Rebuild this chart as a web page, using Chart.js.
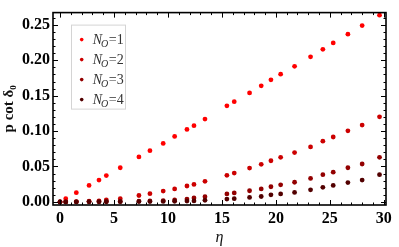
<!DOCTYPE html>
<html>
<head>
<meta charset="utf-8">
<script src="https://cdn.jsdelivr.net/npm/chart.js@4/dist/chart.umd.min.js"></script>
<style>
  html, body { margin: 0; padding: 0; background: #fff; }
  #wrap { width: 399px; height: 247px; position: relative; }
</style>
</head>
<body>
<div id="wrap"><canvas id="c"></canvas></div>
<script>
// ---- data ----
const eta = [0, 0.53, 1.51, 2.69, 3.61, 4.29, 5.58, 7.31, 8.33, 9.56, 10.62, 11.76, 12.41, 13.43,
             15.46, 16.14, 17.56, 18.64, 19.54, 20.44, 21.73, 23.21, 24.35, 25.31, 26.67, 27.99, 29.6];
const pcot1 = [0, 0.0046, 0.0130, 0.0233, 0.0308, 0.0371, 0.0482, 0.0635, 0.0723, 0.0826, 0.0924, 0.1023, 0.1076, 0.1170,
               0.1357, 0.1415, 0.1539, 0.1639, 0.1723, 0.1803, 0.1914, 0.2048, 0.2155, 0.2245, 0.2369, 0.2490, 0.2637];
const pcot2 = [0, 0.0001, 0.0004, 0.0010, 0.0015, 0.0027, 0.0046, 0.0090, 0.0116, 0.0153, 0.0183, 0.0224, 0.0246, 0.0290,
               0.0375, 0.0407, 0.0478, 0.0531, 0.0581, 0.0629, 0.0696, 0.0776, 0.0857, 0.0916, 0.1004, 0.1084, 0.1201];
const pcot3 = [0, 0, 0.0001, 0.0002, 0.0003, 0.0004, 0.0007, 0.0011, 0.0014, 0.0019, 0.0027, 0.0040, 0.0055, 0.0074,
               0.0112, 0.0126, 0.0157, 0.0183, 0.0214, 0.0241, 0.0277, 0.0331, 0.0384, 0.0420, 0.0482, 0.0535, 0.0629];
const pcot4 = [0, 0, 0, 0.0001, 0.0001, 0.0002, 0.0003, 0.0004, 0.0005, 0.0007, 0.0009, 0.0012, 0.0014, 0.0023,
               0.0040, 0.0046, 0.0063, 0.0076, 0.0099, 0.0112, 0.0134, 0.0170, 0.0206, 0.0233, 0.0273, 0.0308, 0.0384];
const seriesLabels = ['N_O=1', 'N_O=2', 'N_O=3', 'N_O=4'];
const xTicks = [0, 5, 10, 15, 20, 25, 30];
const yTicks = [0.00, 0.05, 0.10, 0.15, 0.20, 0.25];
const xTitle = 'η';
const yTitle = 'p cot δ₀';

// ---- styles ----
const colors = ['#ff0000', '#cc0000', '#930000', '#520000'];
const allSeries = [pcot1, pcot2, pcot3, pcot4];

const datasets = allSeries.map((vals, i) => ({
  label: seriesLabels[i],
  data: eta.map((x, k) => ({ x: x, y: vals[k] })),
  backgroundColor: colors[i],
  borderColor: colors[i],
  borderWidth: 0,
  pointRadius: 2.4,
  pointHoverRadius: 2.4,
  showLine: false,
  order: allSeries.length - 1 - i
}));

const serif = "'Liberation Serif', 'Times New Roman', serif";

const framePlugin = {
  id: 'frame',
  afterDatasetsDraw(chart) {
    const ctx = chart.ctx;
    const a = chart.chartArea;
    const xs = chart.scales.x, ys = chart.scales.y;
    ctx.save();
    ctx.strokeStyle = '#000';
    ctx.lineWidth = 1;
    ctx.beginPath();
    const xStep = xTicks[1] - xTicks[0];
    const xMinor = xStep / 5;
    for (let k = 0; k <= Math.round((xTicks[xTicks.length - 1]) / xMinor); k++) {
      const v = k * xMinor;
      const px = Math.round(xs.getPixelForValue(v)) + 0.5;
      if (px < a.left || px > a.right) continue;
      const major = Math.abs(v / xStep - Math.round(v / xStep)) < 1e-6;
      const L = major ? 5 : 2.5;
      ctx.moveTo(px, a.bottom); ctx.lineTo(px, a.bottom - L);
      ctx.moveTo(px, a.top); ctx.lineTo(px, a.top + L);
    }
    const yStep = yTicks[1] - yTicks[0];
    const yMinor = yStep / 5;
    for (let k = 0; k * yMinor <= ys.max; k++) {
      const v = k * yMinor;
      const py = Math.round(ys.getPixelForValue(v)) + 0.5;
      if (py < a.top || py > a.bottom) continue;
      const major = Math.abs(v / yStep - Math.round(v / yStep)) < 1e-6;
      const L = major ? 5 : 2.5;
      ctx.moveTo(a.left, py); ctx.lineTo(a.left + L, py);
      ctx.moveTo(a.right, py); ctx.lineTo(a.right - L, py);
    }
    ctx.stroke();
    ctx.lineWidth = 1.6;
    ctx.strokeRect(a.left, a.top, a.right - a.left, a.bottom - a.top);
    ctx.restore();
  }
};

const legendPlugin = {
  id: 'insideLegend',
  afterDraw(chart) {
    const ctx = chart.ctx;
    const a = chart.chartArea;
    const bx = a.left + 18, by = a.top + 12, bw = 54, bh = 84;
    ctx.save();
    ctx.fillStyle = '#fff';
    ctx.fillRect(bx, by, bw, bh);
    ctx.strokeStyle = '#d4d4d4';
    ctx.lineWidth = 1;
    ctx.strokeRect(bx + 0.5, by + 0.5, bw, bh);
    chart.data.datasets.forEach((ds, i) => {
      const cy = by + 15 + i * 20;
      ctx.fillStyle = ds.backgroundColor;
      ctx.beginPath();
      ctx.arc(bx + 10.7, cy, 1.8, 0, Math.PI * 2);
      ctx.fill();
      const parts = ds.label.split('_');
      const main = parts[0];
      const rest = parts[1];
      const sub = rest.charAt(0);
      const tail = rest.slice(1);
      let tx = bx + 21.7;
      const base = cy + 4.6;
      ctx.fillStyle = '#333';
      ctx.textBaseline = 'alphabetic';
      ctx.textAlign = 'left';
      ctx.font = 'italic 14px ' + serif;
      ctx.fillText(main, tx, base);
      tx += ctx.measureText(main).width - 1;
      ctx.font = 'italic 10px ' + serif;
      ctx.fillText(sub, tx, base + 3);
      tx += ctx.measureText(sub).width + 0.5;
      ctx.font = '14px ' + serif;
      ctx.fillText(tail, tx, base);
    });
    ctx.restore();
  }
};

new Chart(document.getElementById('c'), {
  type: 'scatter',
  data: { datasets: datasets },
  plugins: [framePlugin, legendPlugin],
  options: {
    responsive: true,
    maintainAspectRatio: false,
    animation: false,
    layout: { padding: { top: 2, right: 13, left: 0, bottom: 0 } },
    plugins: { legend: { display: false }, tooltip: { enabled: false } },
    scales: {
      x: {
        type: 'linear',
        min: -0.65,
        max: 30.2,
        afterBuildTicks(s) { s.ticks = xTicks.map(v => ({ value: v })); },
        afterFit(s) { s.height = 42; },
        grid: { display: false, drawTicks: false },
        border: { display: false },
        ticks: {
          padding: 4,
          color: '#000',
          font: { family: serif, size: 16, weight: 'bold' },
          callback: v => String(v)
        },
        title: {
          display: true,
          text: xTitle,
          color: '#111',
          padding: 0,
          font: { family: serif, size: 16, style: 'italic' }
        }
      },
      y: {
        type: 'linear',
        min: -0.0044,
        max: 0.2673,
        afterBuildTicks(s) { s.ticks = yTicks.map(v => ({ value: v })); },
        afterFit(s) { s.width = 53; },
        grid: { display: false, drawTicks: false },
        border: { display: false },
        ticks: {
          padding: 3,
          color: '#000',
          font: { family: serif, size: 16, weight: 'bold' },
          callback: v => Number(v).toFixed(2)
        },
        title: {
          display: true,
          text: yTitle,
          color: '#111',
          padding: 0,
          font: { family: serif, size: 15, weight: 'bold' }
        }
      }
    }
  }
});
</script>
</body>
</html>
